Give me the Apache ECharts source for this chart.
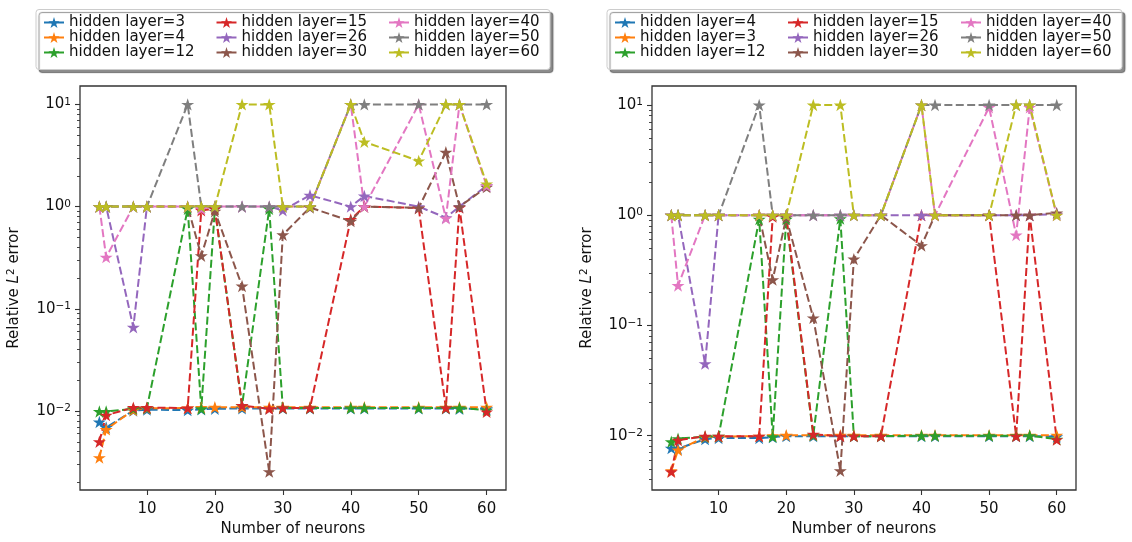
<!DOCTYPE html>
<html><head><meta charset="utf-8">
<script src="https://cdn.jsdelivr.net/npm/echarts@6/dist/echarts.min.js"></script>
<style>html,body{margin:0;padding:0;background:#fff}#c{width:1132px;height:542px}</style>
</head><body><div id="c"></div>
<script>
// ---------- data ----------
const neurons = [3, 4, 8, 10, 16, 18, 20, 24, 28, 30, 34, 40, 42, 50, 54, 56, 60];
const xTicks = [10, 20, 30, 40, 50, 60];
const yTickExps = [-2, -1, 0, 1];

const leftNames = ['hidden layer=3', 'hidden layer=4', 'hidden layer=12', 'hidden layer=15', 'hidden layer=26', 'hidden layer=30', 'hidden layer=40', 'hidden layer=50', 'hidden layer=60'];
const rightNames = ['hidden layer=4', 'hidden layer=3', 'hidden layer=12', 'hidden layer=15', 'hidden layer=26', 'hidden layer=30', 'hidden layer=40', 'hidden layer=50', 'hidden layer=60'];

// left panel
const leftH3  = [0.0078, 0.0069, 0.0101, 0.0103, 0.0102, 0.0104, 0.0105, 0.0106, 0.0106, 0.0106, 0.0106, 0.0106, 0.0106, 0.0106, 0.0106, 0.0105, 0.0105];
const leftH4  = [0.0035, 0.0066, 0.0102, 0.0106, 0.0107, 0.0108, 0.0109, 0.0109, 0.0109, 0.0109, 0.0109, 0.0109, 0.0109, 0.0109, 0.0109, 0.0109, 0.0109];
const leftH12 = [0.0099, 0.0099, 0.0105, 0.0107, 0.95, 0.0105, 0.95, 0.0113, 0.95, 0.0107, 0.0107, 0.0107, 0.0107, 0.0107, 0.0107, 0.0107, 0.0102];
const leftH15 = [0.0050, 0.0091, 0.0108, 0.0108, 0.0107, 0.92, 0.95, 0.0113, 0.0105, 0.0107, 0.0107, 0.75, 1.0, 0.97, 0.0107, 0.98, 0.0098];
const leftH26 = [1, 1, 0.066, 1, 1, 1, 1, 1, 1, 0.92, 1.29, 1.0, 1.27, 1.0, 0.78, 1.0, 1.6];
const leftH30 = [1, 1, 1, 1, 1, 0.33, 0.9, 0.167, 0.00255, 0.53, 0.98, 0.72, 1.0, 0.97, 3.4, 1.0, 1.55];
const leftH40 = [1, 0.32, 1, 1, 1, 0.95, 1, 1, 1, 1, 1, 10, 1.0, 10, 0.77, 10, 1.6];
const leftH50 = [1, 1, 1, 1, 10, 1, 1, 1, 1, 1, 1, 10, 10, 10, 10, 10, 10];
const leftH60 = [1, 1, 1, 1, 1, 1, 1, 10, 10, 1, 1, 10, 4.3, 2.8, 10, 10, 1.67];

// right panel
const rightH4  = [0.0077, 0.0076, 0.0093, 0.0095, 0.0095, 0.0097, 0.0099, 0.0099, 0.0099, 0.0099, 0.0099, 0.0099, 0.0099, 0.0099, 0.0099, 0.0099, 0.0098];
const rightH3  = [0.0048, 0.0074, 0.0097, 0.0098, 0.0099, 0.0100, 0.0101, 0.0101, 0.0101, 0.0101, 0.0101, 0.0101, 0.0101, 0.0101, 0.0101, 0.0101, 0.0101];
const rightH12 = [0.0088, 0.0094, 0.0098, 0.0099, 0.92, 0.0098, 0.92, 0.0101, 0.93, 0.0099, 0.0099, 0.0100, 0.0100, 0.0100, 0.0100, 0.0100, 0.0093];
const rightH15 = [0.0047, 0.0091, 0.0099, 0.0099, 0.0099, 0.97, 1.0, 0.0103, 0.0099, 0.0099, 0.0099, 1.0, 1.0, 1.0, 0.0099, 1.0, 0.0092];
const rightH26 = [1, 1, 0.045, 1, 1, 1, 1, 1, 1, 1, 1, 1.0, 1, 1, 1, 1, 1.02];
const rightH30 = [1, 1, 1, 1, 1, 0.26, 0.95, 0.117, 0.0048, 0.40, 1.0, 0.53, 1.0, 1.0, 1.0, 1.0, 1.05];
const rightH40 = [1, 0.23, 1, 1, 1, 1, 1, 1, 1, 1, 1, 10, 1, 9.5, 0.66, 9.5, 1.0];
const rightH50 = [1, 1, 1, 1, 10, 1, 1, 1, 1, 1, 1, 10, 10, 10, 10, 10, 10];
const rightH60 = [1, 1, 1, 1, 1, 1, 1, 10, 10, 1, 1, 10, 1, 1, 10, 10, 1.0];

const leftSets  = [leftH3, leftH4, leftH12, leftH15, leftH26, leftH30, leftH40, leftH50, leftH60];
const rightSets = [rightH4, rightH3, rightH12, rightH15, rightH26, rightH30, rightH40, rightH50, rightH60];
const colors = ['#1f77b4', '#ff7f0e', '#2ca02c', '#d62728', '#9467bd', '#8c564b', '#e377c2', '#7f7f7f', '#bcbd22'];

// ---------- chart ----------
const STAR = 'path://M0,-100L-22.45,-30.9L-95.11,-30.9L-36.33,11.8L-58.78,80.9L0,38.2L58.78,80.9L36.33,11.8L95.11,-30.9L22.45,-30.9Z';
const FONT = 'DejaVu Sans';
const TXT = '#111';
const AX = '#333';

function minorTicks(lo, hi) {
  const out = [];
  for (let e = Math.floor(lo); e <= Math.ceil(hi); e++) {
    for (let k = 2; k <= 9; k++) {
      const v = e + Math.log10(k);
      if (v > lo && v < hi) out.push(v);
    }
  }
  return out;
}

const supRich = {
  b: { fontSize: 15, lineHeight: 16, fontFamily: FONT, color: TXT },
  s: { fontSize: 10.5, lineHeight: 9, verticalAlign: 'top', fontFamily: FONT, color: TXT },
  i: { fontSize: 15, lineHeight: 16, fontStyle: 'italic', fontFamily: FONT, color: TXT }
};

const panels = [
  { left: 80, width: 426, ymin: -2.773, ymax: 1.18, names: leftNames, sets: leftSets, prefix: '', legendX: [43, 215.5, 388], frameX: 36, frameW: 514, nameGapY: 58 },
  { left: 652, width: 424, ymin: -2.493, ymax: 1.172, names: rightNames, sets: rightSets, prefix: 'R|', legendX: [614, 787, 960], frameX: 607, frameW: 515, nameGapY: 57 }
];

const grid = [], xAxis = [], yAxis = [], series = [], legend = [], graphic = [];

panels.forEach((p, pi) => {
  grid.push({ left: p.left, top: 86, width: p.width, height: 404, show: true, borderColor: AX, borderWidth: 1.3, backgroundColor: 'transparent', outerBoundsMode: 'none', containLabel: false });
  xAxis.push({
    type: 'value', gridIndex: pi, position: 'bottom', min: 0.15, max: 62.85,
    name: 'Number of neurons', nameLocation: 'middle', nameGap: 32,
    nameTextStyle: { fontSize: 15, fontFamily: FONT, color: TXT },
    axisLine: { show: false, onZero: false },
    axisTick: { show: true, inside: false, length: 5, customValues: xTicks, lineStyle: { color: AX, width: 1.1 } },
    axisLabel: { show: true, customValues: xTicks, margin: 12, fontSize: 15, fontFamily: FONT, color: TXT },
    splitLine: { show: false }
  });
  yAxis.push({
    type: 'value', gridIndex: pi, position: 'left', min: p.ymin, max: p.ymax,
    name: 'Relative {i|L}{s|2} error', nameLocation: 'middle', nameGap: p.nameGapY, nameRotate: 90,
    nameTextStyle: { fontSize: 15, lineHeight: 16, fontFamily: FONT, color: TXT, rich: supRich },
    axisLine: { show: false, onZero: false },
    axisTick: { show: true, length: 5, customValues: yTickExps, lineStyle: { color: AX, width: 1.1 } },
    axisLabel: {
      show: true, customValues: yTickExps, margin: 9,
      formatter: v => '{b|10}{s|' + (v < 0 ? '\u2212' + (-v) : v) + '}',
      rich: supRich
    },
    splitLine: { show: false }
  });
  yAxis.push({
    type: 'value', gridIndex: pi, position: 'left', min: p.ymin, max: p.ymax,
    axisLine: { show: false, onZero: false },
    axisTick: { show: true, length: 3, customValues: minorTicks(p.ymin, p.ymax), lineStyle: { color: AX, width: 0.9 } },
    axisLabel: { show: false },
    splitLine: { show: false }
  });
  p.names.forEach((nm, si) => {
    const arr = p.sets[si];
    series.push({
      type: 'line', name: p.prefix + nm, xAxisIndex: pi, yAxisIndex: pi * 2,
      data: neurons.map((x, i) => [x, Math.log10(arr[i])]),
      symbol: STAR, symbolSize: 13, symbolKeepAspect: true, showSymbol: true, showAllSymbol: true,
      lineStyle: { color: colors[si], width: 2, type: [8, 3.4] },
      itemStyle: { color: colors[si] },
      emphasis: { disabled: true },
      animation: false
    });
  });
  for (let c = 0; c < 3; c++) {
    legend.push({
      orient: 'vertical', left: p.legendX[c], top: 15, padding: 0, itemGap: 0,
      itemWidth: 20, itemHeight: 14, selectedMode: false,
      data: p.names.slice(c * 3, c * 3 + 3).map(n => p.prefix + n),
      formatter: n => n.split('|').pop(),
      lineStyle: { type: 'solid', width: 2 },
      textStyle: { fontSize: 15, lineHeight: 15, fontFamily: FONT, color: TXT }
    });
  }
  graphic.push({
    type: 'rect', z: 0,
    shape: { x: p.frameX, y: 9.5, width: p.frameW, height: 60, r: 3 },
    style: { fill: '#fff', stroke: '#cccccc', lineWidth: 1, shadowColor: 'rgba(0,0,0,0.45)', shadowOffsetX: 3, shadowOffsetY: 3, shadowBlur: 1 }
  });
});

const chart = echarts.init(document.getElementById('c'), null, { renderer: 'canvas' });
chart.setOption({
  backgroundColor: '#fff',
  animation: false,
  textStyle: { fontFamily: FONT },
  grid, xAxis, yAxis, series, legend, graphic
});
</script></body></html>
